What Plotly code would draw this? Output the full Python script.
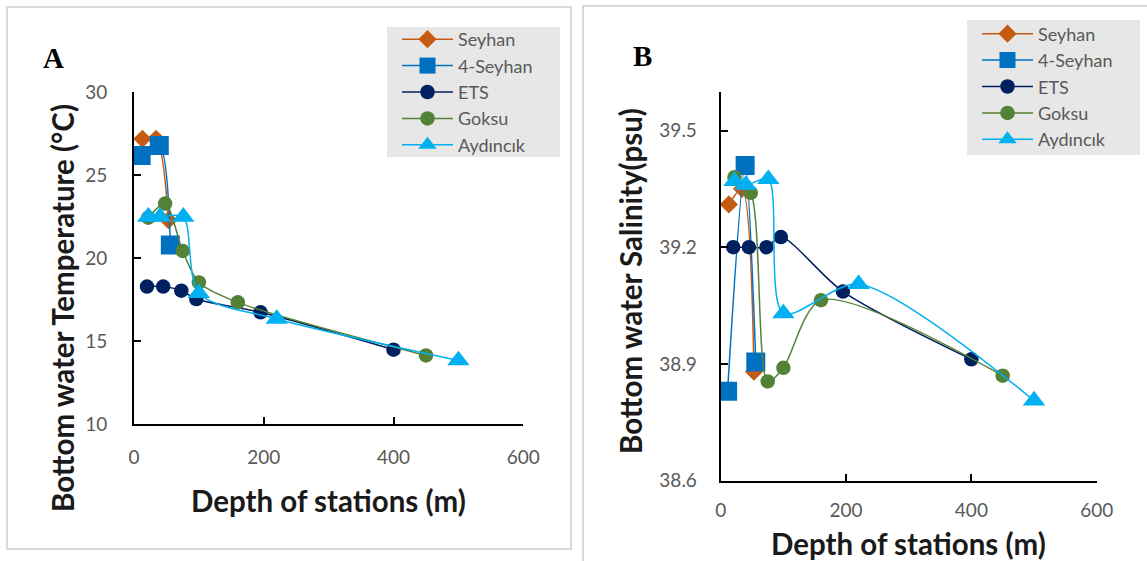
import plotly.graph_objects as go

W, H = 1147, 561

# ---------------- data ----------------
seyhan_depth = [13, 34, 53]
seyhan_temp = [27.2, 27.2, 22.3]
seyhan_sal = [39.31, 39.35, 38.88]

seyhan4_depth = [11, 39, 56]
seyhan4_temp = [26.2, 26.8, 20.8]
seyhan4_sal = [38.83, 39.41, 38.905]

ets_depth = [20, 45, 73, 96, 195, 400]
ets_temp = [18.3, 18.3, 18.05, 17.55, 16.75, 14.5]
ets_sal = [39.2, 39.2, 39.2, 39.226, 39.086, 38.912]

goksu_depth = [22, 48, 75, 100, 160, 450]
goksu_temp = [22.45, 23.3, 20.45, 18.55, 17.35, 14.15]
goksu_sal = [39.38, 39.34, 38.855, 38.89, 39.064, 38.87]

ayd_depth = [22, 40, 76, 100, 220, 500]
ayd_temp = [22.5, 22.5, 22.5, 17.9, 16.35, 13.85]
ayd_sal = [39.37, 39.36, 39.375, 39.03, 39.105, 38.806]

series = [
    ("Seyhan", seyhan_depth, seyhan_temp, seyhan_sal, "#C55A11", "diamond", 14),
    ("4-Seyhan", seyhan4_depth, seyhan4_temp, seyhan4_sal, "#0070C0", "square", 19),
    ("ETS", ets_depth, ets_temp, ets_sal, "#002060", "circle", 14.5),
    ("Goksu", goksu_depth, goksu_temp, goksu_sal, "#538135", "circle", 14.5),
    ("Aydıncık", ayd_depth, ayd_temp, ayd_sal, "#00B0F0", "triangle-up", 19.5),
]

x_ticks = [0, 200, 400, 600]

# ---------------- helpers ----------------
def px(x):
    return x / W

def py(y):
    return 1 - y / H

FONT = "Lato"
TICK_FONT = dict(family=FONT, size=19, color="#595959")
TITLE_FONT = dict(family=FONT, size=29.5, color="#1a1a1a")
LEG_FONT = dict(family=FONT, size=18, color="#595959")

fig = go.Figure()

for name, d, t, s, col, sym, sz in series:
    fig.add_trace(go.Scatter(
        x=d, y=t, name=name, mode="lines+markers",
        line=dict(color=col, width=1.5, shape="spline", smoothing=0.8),
        marker=dict(color=col, symbol=sym, size=sz),
        xaxis="x", yaxis="y", legend="legend",
    ))
for name, d, t, s, col, sym, sz in series:
    fig.add_trace(go.Scatter(
        x=d, y=s, name=name, mode="lines+markers",
        line=dict(color=col, width=1.5, shape="spline", smoothing=0.8),
        marker=dict(color=col, symbol=sym, size=sz),
        xaxis="x2", yaxis="y2", legend="legend2",
    ))

axis_common = dict(
    showline=True, linecolor="#000000", linewidth=2,
    ticks="inside", ticklen=7, tickwidth=2, tickcolor="#000000",
    showgrid=False, zeroline=False, tickfont=TICK_FONT, automargin=False,
)

fig.update_layout(
    width=W, height=H,
    margin=dict(l=0, r=0, t=0, b=0, pad=0, autoexpand=False),
    paper_bgcolor="white", plot_bgcolor="rgba(0,0,0,0)",
    xaxis=dict(domain=[px(134), px(523.3)], range=[0, 600], tickvals=x_ticks,
               anchor="y", ticklabelstandoff=15, **axis_common),
    yaxis=dict(domain=[py(424.4), py(92.3)], range=[10, 30], tick0=10, dtick=5,
               anchor="x", ticklabelstandoff=21, **axis_common),
    xaxis2=dict(domain=[px(720.7), px(1096.7)], range=[0, 600], tickvals=x_ticks,
                anchor="y2", ticklabelstandoff=11, **axis_common),
    yaxis2=dict(domain=[py(480.7), py(91.6)], range=[38.6, 39.6], tick0=38.6, dtick=0.3,
                tickformat=".1f", anchor="x2", ticklabelstandoff=18, **axis_common),
    legend=dict(x=px(397), y=py(21), xanchor="left", yanchor="top",
                bgcolor="rgba(0,0,0,0)", borderwidth=0, font=LEG_FONT,
                itemwidth=51, tracegroupgap=0),
    legend2=dict(x=px(977), y=py(15.5), xanchor="left", yanchor="top",
                 bgcolor="rgba(0,0,0,0)", borderwidth=0, font=LEG_FONT,
                 itemwidth=51, tracegroupgap=0),
    showlegend=True,
)

# panel frames
fig.add_shape(type="rect", xref="paper", yref="paper",
              x0=px(7), x1=px(571), y0=py(549), y1=py(7),
              line=dict(color="#d9d9d9", width=2), fillcolor="rgba(0,0,0,0)", layer="below")
fig.add_shape(type="rect", xref="paper", yref="paper",
              x0=px(583), x1=px(1160), y0=py(575), y1=py(6),
              line=dict(color="#d9d9d9", width=2), fillcolor="rgba(0,0,0,0)", layer="below")
# legend backgrounds
fig.add_shape(type="rect", xref="paper", yref="paper",
              x0=px(387), x1=px(560), y0=py(157), y1=py(27),
              line=dict(width=0), fillcolor="#e7e7e7", layer="below")
fig.add_shape(type="rect", xref="paper", yref="paper",
              x0=px(967), x1=px(1140), y0=py(155), y1=py(20),
              line=dict(width=0), fillcolor="#e7e7e7", layer="below")

# axis titles
fig.add_annotation(text="<b>Depth of stations (m)</b>", xref="paper", yref="paper",
                   x=px(328.6), y=py(500), xanchor="center", yanchor="middle",
                   showarrow=False, font=TITLE_FONT)
fig.add_annotation(text="<b>Depth of stations (m)</b>", xref="paper", yref="paper",
                   x=px(908.7), y=py(543), xanchor="center", yanchor="middle",
                   showarrow=False, font=TITLE_FONT)
fig.add_annotation(text="<b>Bottom water Temperature (°C)</b>", xref="paper", yref="paper",
                   x=px(62), y=py(308), xanchor="center", yanchor="middle", textangle=-90,
                   showarrow=False, font=TITLE_FONT)
fig.add_annotation(text="<b>Bottom water Salinity(psu)</b>", xref="paper", yref="paper",
                   x=px(630), y=py(281), xanchor="center", yanchor="middle", textangle=-90,
                   showarrow=False, font=TITLE_FONT)

# panel letters
fig.add_annotation(text="<b>A</b>", xref="paper", yref="paper",
                   x=px(53), y=py(58), xanchor="center", yanchor="middle",
                   showarrow=False, font=dict(family="Liberation Serif", size=29, color="#000000"))
fig.add_annotation(text="<b>B</b>", xref="paper", yref="paper",
                   x=px(642), y=py(56), xanchor="center", yanchor="middle",
                   showarrow=False, font=dict(family="Liberation Serif", size=29, color="#000000"))

fig.write_html("out.html")
